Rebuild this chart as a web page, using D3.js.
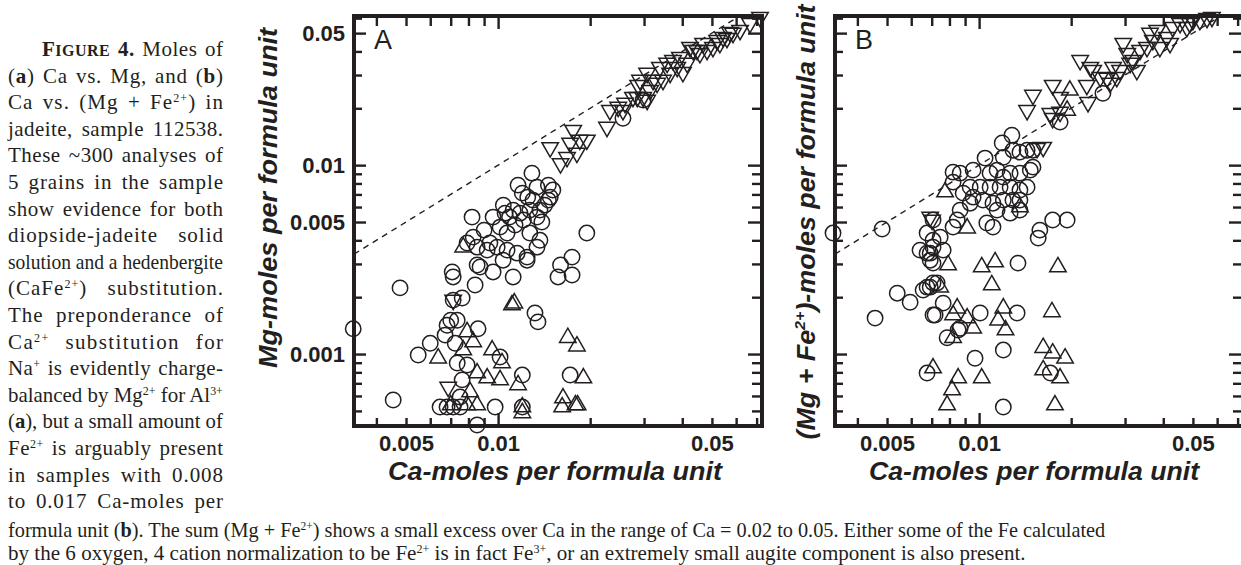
<!DOCTYPE html>
<html><head><meta charset="utf-8">
<script src="https://cdn.jsdelivr.net/npm/d3@7"></script>
<style>
body{margin:0;background:#fff;}
svg{display:block;}
.cap{font-family:"Liberation Serif","Times New Roman",serif;font-size:21px;fill:#231f20;white-space:pre;}
.lbl{font-family:"Liberation Sans",Arial,Helvetica,sans-serif;fill:#231f20;}
</style>
</head><body>
<svg id="c" width="1241" height="565"></svg>
<script>
// ---------------- DATA ----------------
const xTickValues = [0.004,0.005,0.006,0.007,0.008,0.009,0.01,0.02,0.03,0.04,0.05,0.06,0.07];
const xDecadeTicks = [0.01];
const xLabelValues = [0.005,0.01,0.05];
const xTickLabels = ["0.005","0.01","0.05"];
const yTickValues = [0.0005,0.0006,0.0007,0.0008,0.0009,0.001,0.002,0.003,0.004,0.005,0.006,0.007,0.008,0.009,0.01,0.02,0.03,0.04,0.05,0.06];
const yLabelValues = [0.001,0.005,0.01,0.05];
const yTickLabels = ["0.001","0.005","0.01","0.05"];
const xDomain = [0.00338, 0.0729];
const yDomain = [0.000416, 0.0616];
const refLineX = [0.00338, 0.0616]; // 1:1 line (y = x)

// Panel A : Ca vs Mg
const downA = [[0.0148,0.0124],[0.0176,0.0153],[0.0172,0.0131],[0.0185,0.0136],[0.0195,0.0136],[0.0160,0.0102],[0.0168,0.0110],[0.0181,0.0116],[0.0227,0.0159],[0.0232,0.0195],[0.0247,0.0203],[0.0260,0.0213],[0.0285,0.0229],[0.0287,0.0265],[0.0256,0.0195],[0.0276,0.0229],[0.0298,0.0229],[0.0307,0.0221],[0.0314,0.0249],[0.0331,0.0272],[0.0346,0.0282],[0.0365,0.0307],[0.0385,0.0330],[0.0402,0.0310],[0.0415,0.0347],[0.0434,0.0406],[0.0457,0.0391],[0.0482,0.0406],[0.0504,0.0421],[0.0531,0.0442],[0.0560,0.0470],[0.0586,0.0500],[0.0618,0.0518],[0.0666,0.0564],[0.0718,0.0607],[0.0307,0.0307],[0.0321,0.0282],[0.0338,0.0330],[0.0357,0.0347],[0.0373,0.0359],[0.0393,0.0373],[0.0424,0.0421],[0.0447,0.0406],[0.0468,0.0442],[0.0520,0.0458],[0.0544,0.0476],[0.0573,0.0505],[0.00687,0.000669],[0.00713,0.00193],[0.0291,0.0282]];
const circlesA = [[0.0129,0.00907],[0.0134,0.00765],[0.0146,0.00784],[0.0151,0.00738],[0.0148,0.00677],[0.0120,0.00711],[0.0125,0.00677],[0.0130,0.00653],[0.0104,0.00614],[0.0112,0.00578],[0.0118,0.00557],[0.0121,0.00512],[0.0109,0.00531],[0.0134,0.00531],[0.0139,0.0050],[0.00963,0.00531],[0.00822,0.00531],[0.0090,0.00453],[0.01015,0.0047],[0.0107,0.00437],[0.0127,0.00437],[0.0137,0.0040],[0.0195,0.00437],[0.0094,0.00387],[0.00993,0.00368],[0.00829,0.00416],[0.00854,0.00368],[0.00792,0.00387],[0.00921,0.00355],[0.0107,0.00355],[0.01154,0.00342],[0.01244,0.00326],[0.0134,0.00368],[0.01038,0.00314],[0.01244,0.00314],[0.00963,0.00272],[0.0112,0.00256],[0.0160,0.00296],[0.01745,0.00326],[0.0157,0.00256],[0.01745,0.00262],[0.00708,0.00272],[0.00713,0.00256],[0.00854,0.00296],[0.00873,0.00289],[0.00841,0.00232],[0.00478,0.00224],[0.00713,0.00193],[0.00763,0.00198],[0.0132,0.00165],[0.0135,0.00148],[0.00336,0.00136],[0.0070,0.00151],[0.00735,0.00151],[0.00681,0.00142],[0.00671,0.00126],[0.00724,0.00114],[0.0086,0.00136],[0.0060,0.00114],[0.00548,0.000988],[0.00735,0.000897],[0.00792,0.000875],[0.01015,0.000964],[0.0120,0.000774],[0.00763,0.00073],[0.00751,0.000592],[0.00454,0.000571],[0.0172,0.000774],[0.00646,0.000524],[0.00681,0.000524],[0.00713,0.000524],[0.00751,0.000524],[0.00978,0.000524],[0.0120,0.000524],[0.00854,0.000421],[0.0256,0.0177],[0.0298,0.0221],[0.01162,0.00784],[0.0142,0.00614],[0.01136,0.00482],[0.01054,0.00557],[0.0127,0.00578],[0.0137,0.00578],[0.0146,0.00653]];
const upA = [[0.00769,0.00368],[0.0111,0.00182],[0.0113,0.00186],[0.00792,0.00131],[0.00829,0.00116],[0.00637,0.00095],[0.00769,0.00105],[0.00956,0.00105],[0.0103,0.000897],[0.00854,0.000793],[0.00921,0.000746],[0.01015,0.00073],[0.01162,0.000686],[0.0081,0.00063],[0.0169,0.00122],[0.0181,0.0011],[0.0190,0.000746],[0.0163,0.000585],[0.0162,0.000524],[0.0179,0.000537],[0.0182,0.000537],[0.0070,0.000537],[0.00792,0.000537],[0.00854,0.000537],[0.0120,0.000524],[0.0120,0.000488]];

// Panel B : Ca vs (Mg + Fe2+)
const downB = [[0.00702,0.00512],[0.00692,0.00531],[0.0150,0.0235],[0.01435,0.0195],[0.0174,0.0265],[0.0184,0.0229],[0.0214,0.0359],[0.0225,0.0265],[0.0231,0.0330],[0.0236,0.0318],[0.0249,0.0292],[0.0262,0.0289],[0.0227,0.0215],[0.0274,0.0330],[0.0289,0.0318],[0.0296,0.0442],[0.0305,0.0391],[0.0319,0.0359],[0.0328,0.0318],[0.0336,0.0406],[0.0354,0.0421],[0.0370,0.0458],[0.0382,0.0518],[0.0390,0.0421],[0.0411,0.0476],[0.0430,0.0537],[0.0454,0.0564],[0.0478,0.0537],[0.0500,0.0585],[0.0527,0.0585],[0.0556,0.0600],[0.0577,0.0607],[0.0171,0.0188],[0.0174,0.0177],[0.0184,0.0191],[0.0162,0.01245],[0.01547,0.0123],[0.0312,0.0347],[0.0282,0.0292],[0.0268,0.0272],[0.0362,0.0500],[0.0421,0.0442],[0.0489,0.0564]];
const upB = [[0.0198,0.0249],[0.0194,0.0195],[0.00774,0.0072],[0.00914,0.00464],[0.0136,0.0060],[0.00792,0.00296],[0.0102,0.00289],[0.01128,0.00307],[0.0181,0.00289],[0.0110,0.00232],[0.00848,0.00175],[0.00822,0.00161],[0.00914,0.00155],[0.00956,0.00137],[0.01154,0.00151],[0.0120,0.00175],[0.0122,0.00134],[0.00822,0.00122],[0.0162,0.00108],[0.0174,0.00101],[0.0191,0.00095],[0.0162,0.000823],[0.0184,0.000746],[0.00707,0.000843],[0.00854,0.000746],[0.0102,0.000746],[0.00816,0.000645],[0.00786,0.000537],[0.0177,0.000537],[0.0173,0.00167],[0.00746,0.00226]];
const circlesB = [[0.00333,0.00437],[0.00482,0.00459],[0.0254,0.0240],[0.0184,0.0169],[0.0128,0.0144],[0.0119,0.0131],[0.0129,0.012],[0.0136,0.01172],[0.01435,0.012],[0.0150,0.012],[0.01046,0.0109],[0.0120,0.0110],[0.00822,0.00918],[0.00867,0.00907],[0.00822,0.00813],[0.00956,0.00941],[0.01086,0.00907],[0.01145,0.00941],[0.0120,0.00864],[0.01263,0.00907],[0.0136,0.00907],[0.0147,0.00941],[0.0150,0.00976],[0.00935,0.00765],[0.01008,0.00765],[0.01086,0.00765],[0.01171,0.00765],[0.01263,0.00765],[0.0136,0.00738],[0.01435,0.00765],[0.00887,0.00711],[0.00956,0.00677],[0.0103,0.00653],[0.0111,0.00629],[0.0120,0.00653],[0.0129,0.00653],[0.0136,0.00653],[0.00867,0.00578],[0.00935,0.00629],[0.01145,0.00578],[0.01263,0.00557],[0.0106,0.00494],[0.0111,0.0047],[0.0136,0.00578],[0.00848,0.00512],[0.00707,0.00512],[0.00676,0.00437],[0.00707,0.0040],[0.00746,0.00416],[0.00822,0.0047],[0.0158,0.00453],[0.0174,0.00512],[0.0194,0.00512],[0.0156,0.00411],[0.0054,0.0021],[0.00595,0.00188],[0.00457,0.00155],[0.00656,0.00218],[0.00676,0.00226],[0.00707,0.00238],[0.00707,0.00161],[0.00641,0.00355],[0.00676,0.00342],[0.00707,0.00368],[0.00692,0.00314],[0.00707,0.00303],[0.00676,0.000793],[0.00692,0.00342],[0.00692,0.00226],[0.00729,0.00238],[0.00718,0.00161],[0.00763,0.00186],[0.00786,0.00122],[0.00854,0.00134],[0.00867,0.00137],[0.01008,0.00165],[0.0097,0.00095],[0.0120,0.00105],[0.01331,0.00165],[0.0134,0.00303],[0.0171,0.000793],[0.0120,0.000524],[0.00763,0.00355]];

// Caption text (segments: [text, style]) b=bold, bsc=bold small caps, sup=superscript
const captionColumn = [
  [["F","b"],["IGURE","bsc"],[" 4.","b"],[" Moles of",""]],
  [["(",""],["a","b"],[") Ca vs. Mg, and (",""],["b","b"],[")",""]],
  [["Ca vs. (Mg + Fe",""],["2+","sup"],[") in",""]],
  [["jadeite, sample 112538.",""]],
  [["These ~300 analyses of",""]],
  [["5 grains in the sample",""]],
  [["show evidence for both",""]],
  [["diopside-jadeite solid",""]],
  [["solution and a hedenbergite",""]],
  [["(CaFe",""],["2+","sup"],[") substitution.",""]],
  [["The preponderance of",""]],
  [["Ca",""],["2+","sup"],[" substitution for",""]],
  [["Na",""],["+","sup"],[" is evidently charge-",""]],
  [["balanced by Mg",""],["2+","sup"],[" for Al",""],["3+","sup"]],
  [["(",""],["a","b"],["), but a small amount of",""]],
  [["Fe",""],["2+","sup"],[" is arguably present",""]],
  [["in samples with 0.008",""]],
  [["to 0.017 Ca-moles per",""]]
];
const captionWide = [
  [["formula unit (",""],["b","b"],["). The sum (Mg + Fe",""],["2+","sup"],[") shows a small excess over Ca in the range of Ca = 0.02 to 0.05. Either some of the Fe calculated",""]],
  [["by the 6 oxygen, 4 cation normalization to be Fe",""],["2+","sup"],[" is in fact Fe",""],["3+","sup"],[", or an extremely small augite component is also present.",""]]
];

// ---------------- DRAW ----------------
const svg = d3.select("#c");
const INK = "#231f20";
const yTop = 16, yBot = 426;

const panels = [
  {name:"A", x0:354, x1:762, circles:circlesA, up:upA, down:downA, labels:true,
   ytitle:[["Mg-moles per formula unit",""]], ytX:277, ytY:198, ytLen:340, xtX:555, xtLen:334},
  {name:"B", x0:835, x1:1243, circles:circlesB, up:upB, down:downB, labels:false,
   ytitle:[["(Mg + Fe",""],["2+","sup"],[")-moles per formula unit",""]], ytX:815, ytY:222, ytLen:435, xtX:1034, xtLen:330}
];

const triUp = d3.symbol().type(d3.symbolTriangle).size(118)();

function styleTicks(g){
  g.select(".domain").remove();
  g.selectAll(".tick line").attr("stroke",INK).attr("stroke-width",2.4);
  g.selectAll("text").attr("class","lbl").attr("font-size",22).attr("font-weight","bold").attr("fill",INK);
}

panels.forEach(p=>{
  const x = d3.scaleLog().domain(xDomain).range([p.x0,p.x1]);
  const y = d3.scaleLog().domain(yDomain).range([yBot,yTop]);
  const g = svg.append("g");
  const xMinor = xTickValues.filter(v=>!xDecadeTicks.includes(v));
  const yMinor = yTickValues.filter(v=>!yLabelValues.includes(v));

  // bottom
  g.append("g").attr("transform",`translate(0,${yBot})`).call(d3.axisBottom(x).tickValues(xMinor).tickSize(-8).tickSizeOuter(0).tickFormat("")).call(styleTicks);
  g.append("g").attr("transform",`translate(0,${yBot})`).call(d3.axisBottom(x).tickValues(xDecadeTicks).tickSize(-13).tickSizeOuter(0).tickFormat("")).call(styleTicks);
  g.append("g").attr("transform",`translate(0,${yBot})`).call(d3.axisBottom(x).tickValues(xLabelValues).tickSize(0).tickPadding(9.5).tickSizeOuter(0).tickFormat((d,i)=>xTickLabels[i])).call(styleTicks);
  // top
  g.append("g").attr("transform",`translate(0,${yTop})`).call(d3.axisTop(x).tickValues(xMinor).tickSize(-10).tickSizeOuter(0).tickFormat("")).call(styleTicks);
  g.append("g").attr("transform",`translate(0,${yTop})`).call(d3.axisTop(x).tickValues(xDecadeTicks).tickSize(-13).tickSizeOuter(0).tickFormat("")).call(styleTicks);
  // left
  g.append("g").attr("transform",`translate(${p.x0},0)`).call(d3.axisLeft(y).tickValues(yMinor).tickSize(-8).tickSizeOuter(0).tickFormat("")).call(styleTicks);
  g.append("g").attr("transform",`translate(${p.x0},0)`).call(d3.axisLeft(y).tickValues(yLabelValues).tickSize(-12).tickPadding(9).tickSizeOuter(0).tickFormat((d,i)=>p.labels?yTickLabels[i]:"")).call(styleTicks);
  // right
  g.append("g").attr("transform",`translate(${p.x1},0)`).call(d3.axisRight(y).tickValues(yMinor).tickSize(-10).tickSizeOuter(0).tickFormat("")).call(styleTicks);
  g.append("g").attr("transform",`translate(${p.x1},0)`).call(d3.axisRight(y).tickValues(yLabelValues).tickSize(-14).tickSizeOuter(0).tickFormat("")).call(styleTicks);

  // frame
  g.append("rect").attr("x",p.x0).attr("y",yTop).attr("width",p.x1-p.x0).attr("height",yBot-yTop)
    .attr("fill","none").attr("stroke",INK).attr("stroke-width",4);

  // 1:1 dashed line
  g.append("path").datum(refLineX)
    .attr("d", d3.line().x(d=>x(d)).y(d=>y(d)))
    .attr("fill","none").attr("stroke",INK).attr("stroke-width",1.4).attr("stroke-dasharray","6,5");

  const mk = g.append("g").attr("fill","none").attr("stroke",INK).attr("stroke-width",1.5);
  mk.selectAll("circle").data(p.circles).join("circle")
    .attr("cx",d=>x(d[0])).attr("cy",d=>y(d[1])).attr("r",7.7);
  mk.selectAll("path.up").data(p.up).join("path").attr("class","up")
    .attr("d",triUp).attr("transform",d=>`translate(${x(d[0])},${y(d[1])})`);
  mk.selectAll("path.dn").data(p.down).join("path").attr("class","dn")
    .attr("d",triUp).attr("transform",d=>`translate(${x(d[0])},${y(d[1])}) rotate(180)`);

  // panel letter
  g.append("text").attr("class","lbl").attr("x",p.x0+20).attr("y",yTop+33)
    .attr("font-size",27).attr("fill",INK).text(p.name);

  // x title
  g.append("text").attr("class","lbl").attr("x",p.xtX - p.xtLen/2).attr("y",480)
    .attr("font-size",25).attr("font-weight","bold").attr("font-style","italic")
    .attr("textLength",p.xtLen).attr("lengthAdjust","spacingAndGlyphs")
    .attr("fill",INK).text("Ca-moles per formula unit");

  // y title (rotated)
  const yt = g.append("text").attr("class","lbl")
    .attr("transform",`translate(${p.ytX},${p.ytY}) rotate(-90)`)
    .attr("x",-p.ytLen/2).attr("y",0)
    .attr("textLength",p.ytLen).attr("lengthAdjust","spacingAndGlyphs")
    .attr("font-size",25).attr("font-weight","bold").attr("font-style","italic").attr("fill",INK);
  let sh=false;
  p.ytitle.forEach(([s,st])=>{
    const ts = yt.append("tspan").text(s);
    if(st==="sup"){ts.attr("font-size",15).attr("dy",-10);sh=true;}
    else if(sh){ts.attr("dy",10);sh=false;}
  });
});

// caption
function drawLine(segs, x0, target, yb, mode){
  const t = svg.append("text").attr("class","cap").attr("x",0).attr("y",0)
    .attr("transform",`translate(${x0},${yb})`);
  let sh=false;
  segs.forEach(([s,st])=>{
    const ts = t.append("tspan").text(s);
    if(st==="b") ts.attr("font-weight","bold");
    if(st==="bsc") ts.attr("font-weight","bold").attr("font-size",16);
    if(st==="sup"){ts.attr("font-size",12).attr("dy",-7);sh=true;}
    else if(sh){ts.attr("dy",7);sh=false;}
  });
  const nat = t.node().getComputedTextLength();
  if(mode==="squeeze" || nat>target){
    // condense horizontally, as in the printed caption
    t.attr("transform",`translate(${x0},${yb}) scale(${target/nat},1)`);
  } else {
    // justify: part of the slack between words, the rest as letter tracking
    const full = segs.map(s=>s[0]).join("");
    const spaces = (full.match(/ /g)||[]).length;
    if(spaces>0) t.style("word-spacing",((target-nat)*0.4/spaces)+"px");
    t.attr("textLength",target).attr("lengthAdjust","spacing");
  }
}
const capLeft = 8, capRight = 223, capTop = 56, capStep = 26.6;
captionColumn.forEach((segs,i)=>{
  const x0 = i===0 ? 42 : capLeft;
  drawLine(segs, x0, capRight-x0, capTop+i*capStep, "justify");
});
drawLine(captionWide[0], capLeft, 1098, 537, "squeeze");
drawLine(captionWide[1], capLeft, 1018, 560, "squeeze");
</script>
</body></html>
